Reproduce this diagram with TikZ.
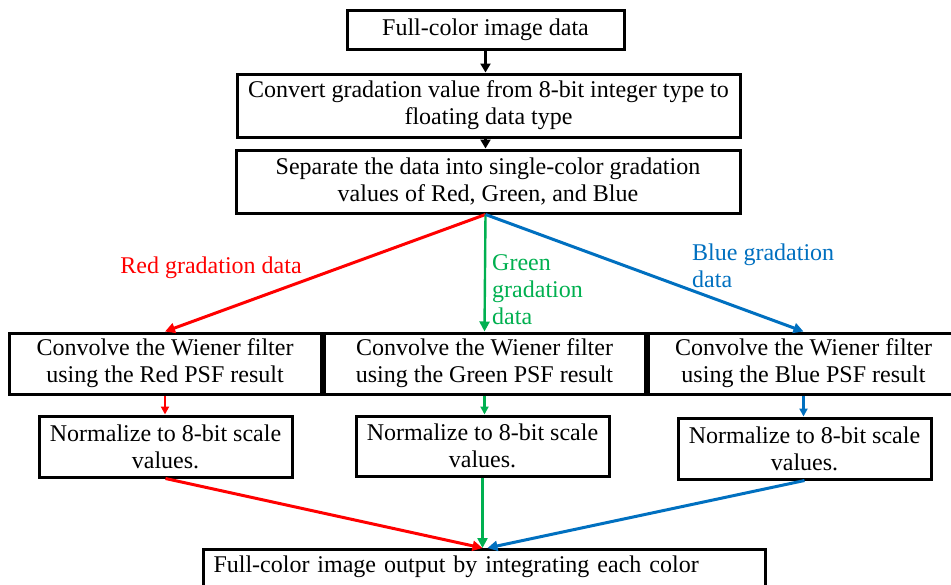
\documentclass[tikz,border=0pt]{standalone}
\usepackage{fontspec}
\setmainfont{Liberation Serif}
\usetikzlibrary{arrows.meta}
\definecolor{cred}{RGB}{255,0,0}
\definecolor{cgreen}{RGB}{0,176,80}
\definecolor{cblue}{RGB}{0,112,192}
\tikzset{
  stepbox/.style={draw=black, line width=3pt, inner sep=0pt, align=center,
    font=\fontsize{24}{27}\selectfont},
  lbl/.style={inner sep=0pt, font=\fontsize{24}{27}\selectfont},
  blk/.style={draw=black, line width=2.2pt, -{Triangle[length=9pt,width=10pt]}},
  fan/.style={line width=3pt, -{Triangle[length=10pt,width=10pt]}},
  sml/.style={line width=2.2pt, -{Triangle[length=8pt,width=8pt]}}
}
\begin{document}
\begin{tikzpicture}[x=1pt,y=-1pt]
\useasboundingbox (0,0) rectangle (951,584);
\clip (0,0) rectangle (951,584);
\fill[white] (0,0) rectangle (951,584);

\node[stepbox, minimum width=277pt, minimum height=39pt] (b1) at (485.5,29.5) {Full-color image data};
\node[stepbox, minimum width=503pt, minimum height=63pt] (b2) at (488.5,105.5) {Convert gradation value from 8-bit integer type to\\floating data type};
\node[stepbox, minimum width=504pt, minimum height=63pt] (b3) at (488,181.5) {Separate the data into single-color gradation\\values of Red, Green, and Blue};

\node[stepbox, minimum width=312pt, minimum height=61pt] (r1) at (165,363.5) {Convolve the Wiener filter\\using the Red PSF result};
\node[stepbox, minimum width=321pt, minimum height=61pt] (g1) at (484.5,363.5) {Convolve the Wiener filter\\using the Green PSF result};
\node[stepbox, minimum width=311pt, minimum height=61pt] (bl1) at (803.5,363.5) {Convolve the Wiener filter\\using the Blue PSF result};

\node[stepbox, minimum width=253pt, minimum height=61pt] (r2) at (165.5,446.5) {Normalize to 8-bit scale\\values.};
\node[stepbox, minimum width=253pt, minimum height=60pt] (g2) at (482.5,446) {Normalize to 8-bit scale\\values.};
\node[stepbox, minimum width=253pt, minimum height=61pt] (bl2) at (804.5,448.5) {Normalize to 8-bit scale\\values.};

\node[stepbox, anchor=north west, minimum width=562pt, text width=542pt, align=left,
  inner xsep=10pt, inner ysep=6pt, text height=17pt, text depth=40pt] (out) at (202,548)
  {Full-color image output by integrating each color};

% black arrows
\draw[blk] (b1.south) -- (b1.south |- b2.north);
\draw[blk] (b1.south |- b2.south) -- (b1.south |- b3.north);

% fan out
\coordinate (fan) at (b1.south |- b3.south);
\draw[fan, cred] (fan) -- (r1.north);
\draw[fan, cgreen, line width=2.4pt] (fan) -- (g1.north);
\draw[fan, cblue] (fan) -- (bl1.north);

% labels
\node[lbl, text=cred] (lr) at (211,268) {Red gradation data};
\node[lbl, text=cgreen, anchor=west, align=left] (lg) at (492,290) {Green\\gradation\\data};
\node[lbl, text=cblue, anchor=west, align=left] (lb) at (692,266) {Blue gradation\\data};

% small arrows
\draw[sml, cred] (r1.south) -- (r1.south |- r2.north);
\draw[sml, cgreen] (g1.south) -- (g1.south |- g2.north);
\draw[sml, cblue] (bl1.south) -- (bl1.south |- bl2.north);

% merge
\draw[fan, cred] (r2.south) -- ([xshift=-2pt]out.north);
\draw[fan, cgreen, line width=2.4pt] (g2.south) -- (g2.south |- out.north);
\draw[fan, cblue] (bl2.south) -- ([xshift=3pt]out.north);
\end{tikzpicture}
\end{document}
